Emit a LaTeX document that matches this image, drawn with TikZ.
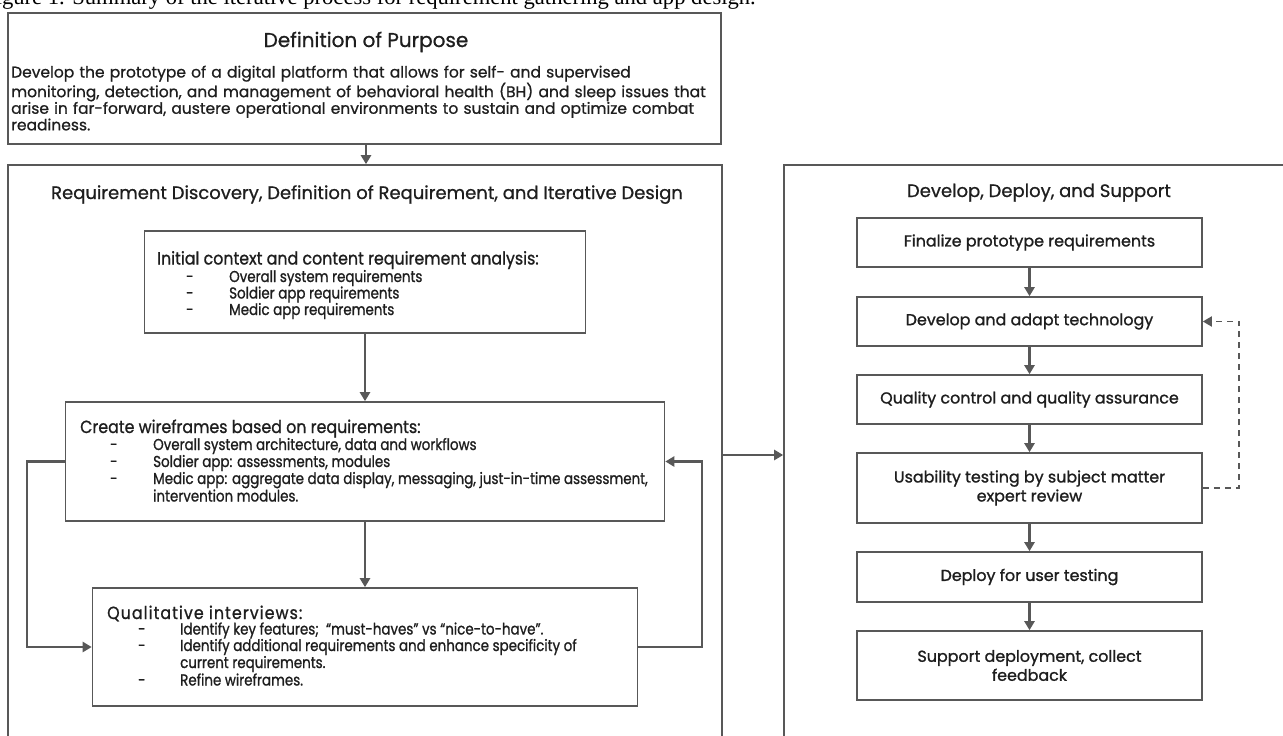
\documentclass[tikz,border=0pt]{standalone}
\usepackage{fontspec}
\setmainfont{Poppins}[FakeBold=1.2]
\newfontfamily\reglfont{Poppins}[FakeBold=0.8]
\newfontfamily\condfont{Poppins}[FakeStretch=0.85,FakeBold=1.0]
\newfontfamily\headfont{Poppins}[FakeStretch=0.9,FakeBold=1.0]
\newfontfamily\headwide{Poppins}[FakeStretch=0.9,FakeBold=1.0,LetterSpace=6]
\newfontfamily\capfont{Liberation Serif}
\usetikzlibrary{arrows.meta}
\definecolor{linec}{HTML}{585858}
\definecolor{txtc}{HTML}{1E1E1E}
\newcommand\fsz[2]{\fontsize{#1}{#2}\selectfont}
\begin{document}
\begin{tikzpicture}[x=1pt,y=-1pt,
  box/.style={draw=linec, line width=1.6pt, inner sep=0pt, fill=none},
  arr/.style={draw=linec, line width=2.3pt, -{Triangle[length=9pt,width=10pt]}},
  darr/.style={draw=linec, line width=1.8pt, dash pattern=on 6pt off 5pt, -{Triangle[length=9pt,width=10pt]}},
  txt/.style={inner sep=0pt, text=txtc},
  head/.style={txt, anchor=base west, font=\headfont\fsz{17.6}{19}},
  item/.style={txt, anchor=base west, font=\condfont\fsz{15.8}{17}},
  rtxt/.style={txt, align=center, font=\fsz{15.9}{19}},
  ttl/.style={txt, anchor=base, font=\reglfont\fsz{18}{20}}]
\useasboundingbox (0,0) rectangle (1283,736);
\fill[white] (0,0) rectangle (1283,736);

% caption (cut at the top of the picture, as in the reference)
\node[anchor=base east, inner sep=0pt, font=\capfont\fsz{22.6}{24}] (caption) at (756,4.5) {Figure 1. Summary of the iterative process for requirement gathering and app design.};

% ---------- boxes ----------
\node[box, minimum width=713pt, minimum height=131pt] (purpose) at (364.5,78.5) {};
\node[box, minimum width=714pt, minimum height=580pt] (left) at (365,455) {};
\node[box, minimum width=511pt, minimum height=580pt] (right) at (1039.5,455) {};

\node[box, minimum width=441pt, minimum height=102pt] (initial) at (365,282) {};
\node[box, minimum width=599pt, minimum height=119pt] (wire) at (365,461.5) {};
\node[box, minimum width=545pt, minimum height=118pt] (quali) at (365,647) {};

\node[box, minimum width=345pt, minimum height=49pt] (fin) at (1029.5,242.5) {};
\node[box, minimum width=345pt, minimum height=49pt] (dev) at (1029.5,321.5) {};
\node[box, minimum width=345pt, minimum height=49pt] (qual) at (1029.5,399.5) {};
\node[box, minimum width=345pt, minimum height=70pt] (usab) at (1029.5,488) {};
\node[box, minimum width=345pt, minimum height=50pt] (depl) at (1029.5,577) {};
\node[box, minimum width=345pt, minimum height=69pt] (supp) at (1029.5,665.5) {};

% ---------- texts ----------
\node[ttl, font=\reglfont\fsz{20}{22}] (ptitle) at (366,47) {Definition of Purpose};
\node[txt, anchor=base west, text width=740pt, align=left, font=\reglfont\fsz{15.5}{16.6}] (pbody) at (11,77.5) {Develop the prototype of a digital platform that allows for self- and supervised\\monitoring, detection, and management of behavioral health (BH) and sleep issues that\\arise in far-forward, austere operational environments to sustain and optimize combat\\readiness.};

\node[ttl] (ltitle) at (367,199) {Requirement Discovery, Definition of Requirement, and Iterative Design};
\node[ttl] (rtitle) at (1039,197) {Develop, Deploy, and Support};

\node[head] (ih) at (157,264.5) {Initial context and content requirement analysis:};
\node[item] (id1) at (186,282) {-};
\node[item] (it1) at (229,282) {Overall system requirements};
\node[item] (id2) at (186,298.5) {-};
\node[item] (it2) at (229,298.5) {Soldier app requirements};
\node[item] (id3) at (186,315) {-};
\node[item] (it3) at (229,315) {Medic app requirements};

\node[head] (wh) at (80,433) {Create wireframes based on requirements:};
\node[item] (wd1) at (110,450) {-};
\node[item] (wt1) at (153,450) {Overall system architecture, data and workflows};
\node[item] (wd2) at (110,467) {-};
\node[item] (wt2) at (153,467) {Soldier app: assessments, modules};
\node[item] (wd3) at (110,484) {-};
\node[item] (wt3) at (153,484) {Medic app: aggregate data display, messaging, just-in-time assessment,};
\node[item] (wt4) at (153,501.5) {intervention modules.};

\node[head, font=\headwide\fsz{17.6}{19}] (qh) at (107,619) {Qualitative interviews:};
\node[item] (qd1) at (138,634.5) {-};
\node[item] (qt1) at (180,634.5) {Identify key features;\ \ “must-haves” vs “nice-to-have”.};
\node[item] (qd2) at (138,651) {-};
\node[item] (qt2) at (180,651) {Identify additional requirements and enhance specificity of};
\node[item] (qt3) at (180,668) {current requirements.};
\node[item] (qd3) at (138,685.5) {-};
\node[item] (qt4) at (180,685.5) {Refine wireframes.};

\node[rtxt] (tfin) at (fin) {Finalize prototype requirements};
\node[rtxt] (tdev) at (dev) {Develop and adapt technology};
\node[rtxt] (tqual) at (qual) {Quality control and quality assurance};
\node[rtxt] (tusab) at (usab) {Usability testing by subject matter\\expert review};
\node[rtxt] (tdepl) at (depl) {Deploy for user testing};
\node[rtxt] (tsupp) at (supp) {Support deployment, collect\\feedback};

% ---------- connectors ----------
\draw[arr] (purpose.south -| ptitle.base) -- (left.north -| ptitle.base);
\draw[arr] (initial.south) -- (wire.north);
\draw[arr] (wire.south) -- (quali.north);
\coordinate (lw) at (27,461.5);
\coordinate (rw) at (702,461.5);
\draw[arr] (wire.west) -- (lw) -- (lw |- quali.west) -- (quali.west);
\draw[arr] (quali.east) -- (rw |- quali.east) -- (rw) -- (wire.east);
\draw[arr] (left.east) -- (right.west);

\draw[arr] (fin) -- (dev);
\draw[arr] (dev) -- (qual);
\draw[arr] (qual) -- (usab);
\draw[arr] (usab) -- (depl);
\draw[arr] (depl) -- (supp);
\coordinate (dl) at (1239,488);
\draw[darr] (usab.east) -- (dl) -- (dl |- dev.east) -- (dev.east);
\end{tikzpicture}
\end{document}
